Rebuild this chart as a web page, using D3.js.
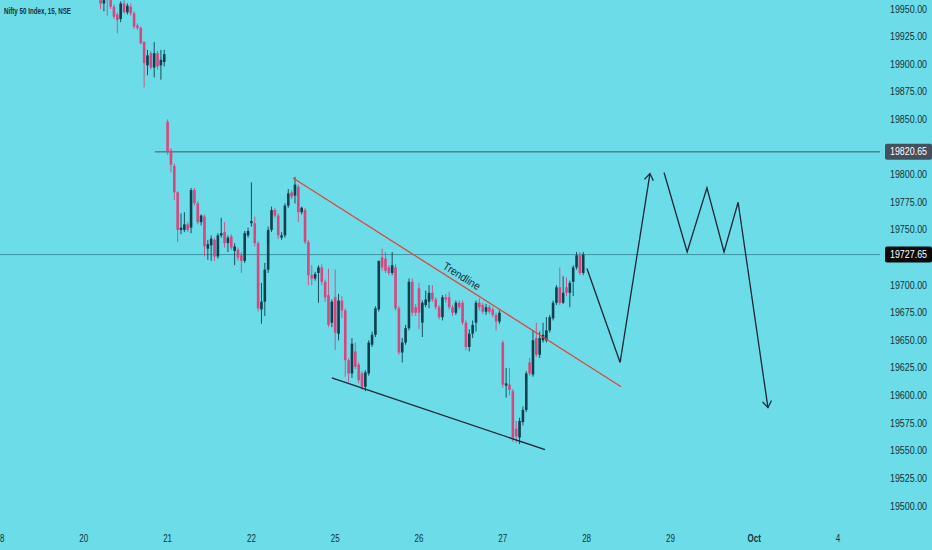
<!DOCTYPE html>
<html>
<head>
<meta charset="utf-8">
<script src="https://cdn.jsdelivr.net/npm/d3@7"></script>
<style>
  html, body { margin: 0; padding: 0; background: #6cdde8; overflow: hidden; }
  svg { display: block; font-family: "Liberation Sans", Arial, sans-serif; }
</style>
</head>
<body>
<div id="chart"></div>
<script>
// 15 minute bars, 25 per session, first bar below is bar 28 (session of the 20th)
const startBar = 28;
const opens = [
  19985, 19972, 19965, 19955, 19962, 19958, 19952, 19945, 19941, 19955, 19947, 19952, 19946, 19935, 19933, 19920, 19899, 19910, 19897, 19910, 19899, 19902,
  19848, 19822, 19808, 19784, 19750, 19750, 19755, 19752, 19786, 19774, 19757, 19762, 19733, 19736, 19741, 19726, 19745, 19748, 19738, 19744, 19731, 19732, 19727, 19722, 19745,
  19756, 19756, 19738, 19678, 19685, 19714, 19750, 19768, 19763, 19743, 19745, 19772, 19784, 19781, 19789, 19766, 19768, 19739, 19709, 19706, 19711, 19716, 19703, 19691, 19666,
  19689, 19656, 19686, 19677, 19632, 19620, 19640, 19628, 19620, 19608, 19620, 19646, 19655, 19678, 19725, 19724, 19716, 19711, 19716, 19679, 19639, 19648, 19661, 19703, 19680,
  19697, 19666, 19682, 19685, 19693, 19687, 19680, 19671, 19689, 19689, 19680, 19675, 19684, 19684, 19666, 19644, 19656, 19666, 19684, 19682, 19676, 19680, 19678, 19673, 19667,
  19648, 19609, 19610, 19604, 19570, 19562, 19576, 19587, 19630, 19619, 19652, 19637, 19650, 19650, 19659, 19670, 19684, 19698, 19684, 19698, 19693, 19703, 19716, 19727, 19711
];
const highs = [
  19990, 19978, 19968, 19962, 19968, 19962, 19954, 19947, 19957, 19958, 19955, 19955, 19948, 19937, 19934, 19921, 19913, 19912, 19920, 19912, 19913, 19913,
  19850, 19824, 19810, 19785, 19765, 19766, 19757, 19788, 19788, 19776, 19764, 19764, 19741, 19745, 19743, 19747, 19761, 19757, 19745, 19746, 19738, 19734, 19730, 19749, 19752,
  19793, 19762, 19740, 19702, 19720, 19753, 19771, 19770, 19765, 19748, 19774, 19787, 19786, 19798, 19791, 19771, 19770, 19741, 19718, 19712, 19718, 19719, 19705, 19715, 19687,
  19714, 19692, 19690, 19679, 19634, 19652, 19648, 19630, 19622, 19623, 19650, 19658, 19681, 19722, 19733, 19730, 19718, 19730, 19719, 19681, 19652, 19664, 19706, 19706, 19683,
  19702, 19686, 19695, 19700, 19700, 19689, 19682, 19691, 19692, 19694, 19682, 19686, 19686, 19686, 19668, 19660, 19668, 19686, 19688, 19684, 19683, 19682, 19680, 19675, 19677,
  19650, 19625, 19625, 19606, 19577, 19580, 19590, 19622, 19634, 19659, 19666, 19658, 19666, 19671, 19673, 19686, 19700, 19716, 19708, 19707, 19704, 19718, 19730, 19730, 19730
];
const lows = [
  19968, 19960, 19950, 19948, 19944, 19950, 19941, 19928, 19938, 19946, 19945, 19944, 19932, 19931, 19918, 19879, 19890, 19895, 19888, 19895, 19886, 19898,
  19818, 19802, 19777, 19739, 19746, 19748, 19748, 19747, 19772, 19755, 19754, 19726, 19723, 19722, 19722, 19724, 19743, 19734, 19730, 19732, 19718, 19722, 19711, 19720, 19743,
  19753, 19735, 19676, 19665, 19672, 19711, 19748, 19761, 19742, 19741, 19743, 19770, 19778, 19774, 19757, 19764, 19737, 19700, 19700, 19704, 19684, 19700, 19685, 19662, 19662,
  19641, 19650, 19670, 19617, 19612, 19616, 19624, 19611, 19605, 19604, 19618, 19644, 19653, 19676, 19713, 19711, 19709, 19709, 19677, 19637, 19630, 19646, 19659, 19672, 19672,
  19660, 19653, 19680, 19679, 19685, 19678, 19669, 19668, 19684, 19678, 19672, 19673, 19678, 19664, 19641, 19640, 19652, 19658, 19677, 19674, 19673, 19674, 19671, 19659, 19665,
  19607, 19598, 19600, 19558, 19557, 19556, 19573, 19585, 19618, 19617, 19635, 19634, 19648, 19648, 19657, 19668, 19682, 19682, 19683, 19690, 19680, 19690, 19714, 19709, 19709
];
const closes = [
  19972, 19965, 19955, 19958, 19958, 19952, 19943, 19940, 19955, 19947, 19953, 19946, 19934, 19933, 19919, 19901, 19908, 19897, 19910, 19898, 19904, 19909,
  19821, 19809, 19784, 19750, 19752, 19755, 19750, 19786, 19774, 19757, 19763, 19735, 19737, 19742, 19726, 19745, 19747, 19738, 19743, 19734, 19735, 19725, 19722, 19747, 19749,
  19758, 19738, 19679, 19685, 19714, 19750, 19768, 19763, 19745, 19745, 19772, 19783, 19780, 19791, 19766, 19770, 19739, 19709, 19706, 19710, 19716, 19703, 19689, 19664, 19685,
  19657, 19686, 19677, 19632, 19620, 19647, 19626, 19614, 19608, 19621, 19648, 19655, 19679, 19722, 19716, 19713, 19711, 19718, 19679, 19639, 19648, 19661, 19703, 19675, 19675,
  19675, 19684, 19687, 19693, 19687, 19680, 19671, 19689, 19687, 19680, 19675, 19684, 19680, 19666, 19644, 19656, 19664, 19684, 19680, 19676, 19680, 19676, 19673, 19667, 19675,
  19610, 19611, 19605, 19562, 19563, 19577, 19587, 19620, 19620, 19650, 19637, 19652, 19655, 19659, 19671, 19684, 19698, 19684, 19693, 19693, 19702, 19716, 19727, 19711, 19727.65
];

const barsPerDay = 25;
const dayLabels = ["18", "20", "21", "22", "25", "26", "27", "28", "29", "Oct", "4"];
const priceTicks = [19500, 19525, 19550, 19575, 19600, 19625, 19650, 19675, 19700, 19725, 19750, 19775, 19800, 19825, 19850, 19875, 19900, 19925, 19950];

// horizontal level drawn on the chart and the last traded price
const levelPrice = 19820.65;
const levelStartBar = 46.2;
const lastPrice = 19727.65;

// drawings, as [bar, price]
const trendLine = [[87.4, 19797], [185.3, 19608]];
const supportLine = [[99.0, 19616], [162.6, 19551]];
const pathUp = [[175.1, 19715], [185.0, 19630], [193.9, 19801]];
const pathDown = [[198.1, 19802], [205.0, 19730], [210.9, 19788], [216.0, 19730], [220.2, 19775], [229.1, 19589]];

const width = 932, height = 550;
const plotRight = 880;

const upColor = "#0e3f4e";
const downColor = "#d8457f";
const textColor = "#14303b";

const svg = d3.select("#chart")
  .append("svg")
  .attr("width", width)
  .attr("height", height);

const x = d3.scaleLinear().domain([0, (dayLabels.length - 1) * barsPerDay]).range([0, 838]);
const y = d3.scaleLinear().domain([19500, 19950]).range([506, 9]);

const bars = closes.map((c, k) => ({
  i: startBar + k, o: opens[k], h: highs[k], l: lows[k], c: c
}));

svg.append("clipPath").attr("id", "plot")
  .append("rect").attr("x", 0).attr("y", 0).attr("width", plotRight).attr("height", 520);

const plot = svg.append("g").attr("clip-path", "url(#plot)");

// last price line, full width
plot.append("line")
  .attr("x1", 0).attr("x2", plotRight)
  .attr("y1", y(lastPrice)).attr("y2", y(lastPrice))
  .attr("stroke", "#3b96a3").attr("stroke-width", 1);

// horizontal level
plot.append("line")
  .attr("x1", x(levelStartBar)).attr("x2", plotRight)
  .attr("y1", y(levelPrice)).attr("y2", y(levelPrice))
  .attr("stroke", "#3d5563").attr("stroke-width", 1);

const candle = plot.selectAll(".candle")
  .data(bars)
  .enter().append("g")
  .attr("class", "candle");

const bodyW = 2.6;

candle.append("line")
  .attr("x1", d => x(d.i)).attr("x2", d => x(d.i))
  .attr("y1", d => y(d.h)).attr("y2", d => y(d.l))
  .attr("stroke", d => d.c >= d.o ? upColor : downColor)
  .attr("stroke-width", 0.9);

candle.append("rect")
  .attr("x", d => x(d.i) - bodyW / 2)
  .attr("width", bodyW)
  .attr("y", d => y(Math.max(d.o, d.c)))
  .attr("height", d => Math.max(1, Math.abs(y(d.o) - y(d.c))))
  .attr("fill", d => d.c >= d.o ? upColor : downColor);

const line = d3.line().x(d => x(d[0])).y(d => y(d[1]));

plot.append("path")
  .attr("d", line(trendLine))
  .attr("fill", "none")
  .attr("stroke", "#e0443f")
  .attr("stroke-width", 1.3);

plot.append("path")
  .attr("d", line(supportLine))
  .attr("fill", "none")
  .attr("stroke", "#1b2636")
  .attr("stroke-width", 1.4);

// trendline label, along the red line
const t0 = [x(trendLine[0][0]), y(trendLine[0][1])];
const t1 = [x(trendLine[1][0]), y(trendLine[1][1])];
const ang = Math.atan2(t1[1] - t0[1], t1[0] - t0[0]) * 180 / Math.PI;
const lx = x(136.5), ly = t0[1] + (x(136.5) - t0[0]) * (t1[1] - t0[1]) / (t1[0] - t0[0]);
plot.append("text")
  .attr("transform", `translate(${lx},${ly}) rotate(${ang})`)
  .attr("y", -4)
  .attr("text-anchor", "middle")
  .attr("font-size", 11)
  .attr("textLength", 42)
  .attr("lengthAdjust", "spacingAndGlyphs")
  .attr("fill", textColor)
  .text("Trendline");

function arrow(pts) {
  const p = pts.map(d => [x(d[0]), y(d[1])]);
  plot.append("path")
    .attr("d", d3.line()(p))
    .attr("fill", "none")
    .attr("stroke", "#1b2636")
    .attr("stroke-width", 1.3);
  const a = p[p.length - 2], b = p[p.length - 1];
  const th = Math.atan2(b[1] - a[1], b[0] - a[0]);
  const len = 8, spread = 0.6;
  const w1 = [b[0] - len * Math.cos(th - spread), b[1] - len * Math.sin(th - spread)];
  const w2 = [b[0] - len * Math.cos(th + spread), b[1] - len * Math.sin(th + spread)];
  plot.append("path")
    .attr("d", d3.line()([w1, b, w2]))
    .attr("fill", "none")
    .attr("stroke", "#1b2636")
    .attr("stroke-width", 1.3);
}
arrow(pathUp);
arrow(pathDown);

// price scale; ticks that sit under a price tag are hidden like the platform does
const tagged = [levelPrice, lastPrice];
svg.append("g").selectAll("text")
  .data(priceTicks.filter(v => tagged.every(t => Math.abs(y(v) - y(t)) > 12)))
  .enter().append("text")
  .attr("x", 890)
  .attr("y", d => y(d))
  .attr("dy", "0.35em")
  .attr("font-size", 10)
  .attr("textLength", 37)
  .attr("lengthAdjust", "spacingAndGlyphs")
  .attr("fill", textColor)
  .text(d => d3.format(".2f")(d));

function priceTag(v, bg) {
  const g = svg.append("g");
  g.append("rect")
    .attr("x", 885).attr("y", y(v) - 8)
    .attr("width", 47).attr("height", 16)
    .attr("rx", 2)
    .attr("fill", bg);
  g.append("text")
    .attr("x", 890).attr("y", y(v))
    .attr("dy", "0.35em")
    .attr("font-size", 10)
    .attr("textLength", 37)
    .attr("lengthAdjust", "spacingAndGlyphs")
    .attr("fill", "#ffffff")
    .text(d3.format(".2f")(v));
}
priceTag(levelPrice, "#474e5c");
priceTag(lastPrice, "#0a0a0a");

// time scale
const dates = svg.append("g").selectAll("text")
  .data(dayLabels)
  .enter().append("text")
  .attr("x", (d, k) => x(k * barsPerDay))
  .attr("y", 538)
  .attr("dy", "0.35em")
  .attr("text-anchor", "middle")
  .attr("font-size", 10)
  .attr("font-weight", d => d === "Oct" ? "bold" : "normal")
  .attr("fill", textColor)
  .text(d => d);
dates.each(function () {
  const w = this.getComputedTextLength();
  d3.select(this).attr("textLength", w * 0.8).attr("lengthAdjust", "spacingAndGlyphs");
});

svg.append("text")
  .attr("x", 4)
  .attr("y", 11)
  .attr("dy", "0.35em")
  .attr("font-size", 8.5)
  .attr("font-weight", "bold")
  .attr("textLength", 67)
  .attr("lengthAdjust", "spacingAndGlyphs")
  .attr("fill", textColor)
  .text("Nifty 50 Index, 15, NSE");
</script>
</body>
</html>
